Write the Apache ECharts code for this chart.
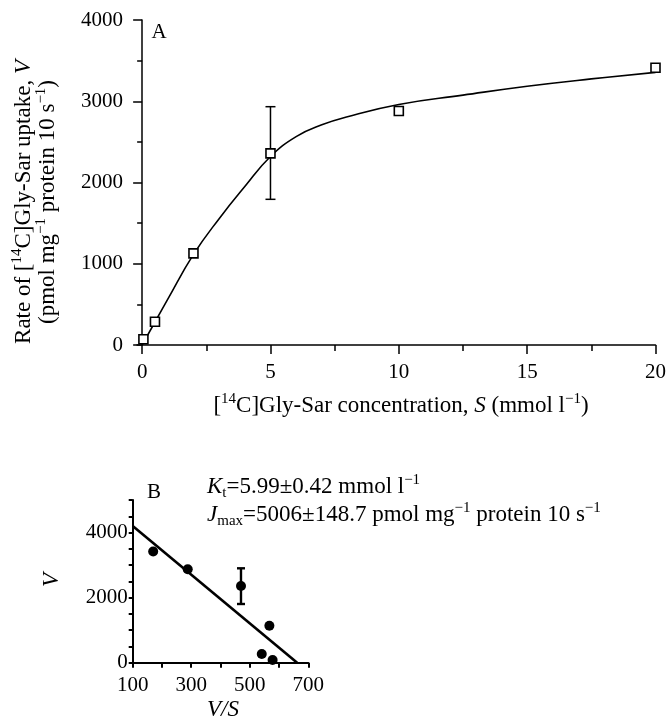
<!DOCTYPE html>
<html><head><meta charset="utf-8">
<script src="https://cdn.jsdelivr.net/npm/echarts@6/dist/echarts.min.js"></script>
<style>html,body{margin:0;padding:0;background:#fff}#c{width:669px;height:725px}</style>
</head><body><div id="c"></div>
<script>
// Panel A: uptake rate vs concentration
const concS = [0.05, 0.5, 2, 5, 10, 20];
const rateV = [70, 287, 1128, 2359, 2880, 3413];
const errA = [[5, 1793, 2933]];
const fitS = [0, 1, 2, 3, 4, 5, 6, 7, 8, 10, 12.5, 15, 17.5, 20];
const fitV = [0, 565, 1115, 1555, 1950, 2320, 2565, 2710, 2810, 2960, 3075, 3185, 3275, 3355];
const topXTicks = [0, 5, 10, 15, 20];
const topXMinor = [2.5, 7.5, 12.5, 17.5];
// Panel B: Eadie-Hofstee plot
const vsX = [578, 541, 567, 470, 288, 170];
const vY = [83, 267, 1137, 2357, 2870, 3420];
const errB = [[470, 1804, 2901]];
const lineVS = [100, 662];
const lineV = [4200, 0];
const botXLabels = [100, 300, 500, 700];
const botYLabels = [0, 2000, 4000];

const FONT = 'Liberation Serif';
const chart = echarts.init(document.getElementById('c'), null, {renderer: 'canvas'});

function errRender(lw, hw) {
  return function (params, api) {
    const x = api.value(0), lo = api.value(1), hi = api.value(2);
    const a = api.coord([x, lo]), b = api.coord([x, hi]);
    const st = {stroke: '#000', lineWidth: lw};
    return {type: 'group', children: [
      {type: 'line', shape: {x1: a[0], y1: a[1], x2: b[0], y2: b[1]}, style: st},
      {type: 'line', shape: {x1: a[0] - hw, y1: a[1], x2: a[0] + hw, y2: a[1]}, style: st},
      {type: 'line', shape: {x1: b[0] - hw, y1: b[1], x2: b[0] + hw, y2: b[1]}, style: st}
    ]};
  };
}

const lblStyle = {fontFamily: FONT, fontSize: 21, color: '#000'};
const richBase = {
  sup: {fontFamily: FONT, fontSize: 15, lineHeight: 17, verticalAlign: 'top', fill: '#000'},
  sub: {fontFamily: FONT, fontSize: 15, lineHeight: 16, verticalAlign: 'bottom', fill: '#000'},
  i: {fontFamily: FONT, fontSize: 23, fontStyle: 'italic', lineHeight: 28, fill: '#000'}
};
function txt(x, y, text, opts) {
  opts = opts || {};
  return {
    type: 'text', x: x, y: y, rotation: opts.rot || 0, z: 100,
    style: {
      text: text, fontFamily: FONT, fontSize: opts.size || 23, lineHeight: 28, fill: '#000',
      fontStyle: opts.italic ? 'italic' : 'normal',
      align: opts.align || 'center', verticalAlign: 'middle', rich: richBase
    }
  };
}

const option = {
  animation: false,
  backgroundColor: '#fff',
  grid: [
    {left: 137, top: 20, right: 13, height: 325},
    {left: 132.7, top: 500, width: 175.6, height: 162.7}
  ],
  xAxis: [
    {gridIndex: 0, type: 'value', min: -0.2, max: 20, position: 'bottom',
     axisLine: {lineStyle: {color: '#000', width: 1.5}},
     axisTick: {customValues: topXTicks, length: 9, lineStyle: {color: '#000', width: 1.5}},
     axisLabel: Object.assign({customValues: topXTicks, margin: 17, formatter: v => String(v)}, lblStyle),
     splitLine: {show: false}},
    {gridIndex: 0, type: 'value', min: -0.2, max: 20, position: 'bottom',
     axisLine: {show: false},
     axisTick: {customValues: topXMinor, length: 6, lineStyle: {color: '#000', width: 1.5}},
     axisLabel: {show: false}, splitLine: {show: false}},
    {gridIndex: 1, type: 'value', min: 100, max: 700, interval: 100,
     axisLine: {lineStyle: {color: '#000', width: 2}},
     axisTick: {length: 5, lineStyle: {color: '#000', width: 2}},
     axisLabel: Object.assign({margin: 12, formatter: v => botXLabels.indexOf(v) >= 0 ? String(v) : ''}, lblStyle),
     splitLine: {show: false}}
  ],
  yAxis: [
    {gridIndex: 0, type: 'value', min: 0, max: 4000, interval: 1000,
     axisLine: {show: true, lineStyle: {color: '#000', width: 1.5}},
     axisTick: {show: true, length: 9, lineStyle: {color: '#000', width: 1.5}},
     minorTick: {show: true, splitNumber: 2, length: 5, lineStyle: {color: '#000', width: 1.5}},
     axisLabel: Object.assign({margin: 14, formatter: v => String(v)}, lblStyle),
     splitLine: {show: false}, minorSplitLine: {show: false}},
    {gridIndex: 1, type: 'value', min: 0, max: 5000, interval: 500,
     axisLine: {show: true, lineStyle: {color: '#000', width: 2}},
     axisTick: {show: true, length: 4, lineStyle: {color: '#000', width: 2}},
     axisLabel: Object.assign({margin: 5, formatter: v => botYLabels.indexOf(v) >= 0 ? String(v) : ''}, lblStyle),
     splitLine: {show: false}}
  ],
  series: [
    {type: 'line', xAxisIndex: 0, yAxisIndex: 0, data: fitS.map((s, i) => [s, fitV[i]]),
     smooth: 0.45, showSymbol: false, symbol: 'none',
     lineStyle: {color: '#000', width: 1.6}, z: 2},
    {type: 'custom', xAxisIndex: 0, yAxisIndex: 0, data: errA, encode: {x: 0, y: [1, 2]},
     renderItem: errRender(1.5, 5), z: 3},
    {type: 'scatter', xAxisIndex: 0, yAxisIndex: 0, data: concS.map((s, i) => [s, rateV[i]]),
     symbol: 'rect', symbolSize: 9,
     itemStyle: {color: '#fff', borderColor: '#000', borderWidth: 1.6, opacity: 1}, z: 5},
    {type: 'line', xAxisIndex: 2, yAxisIndex: 1, data: lineVS.map((s, i) => [s, lineV[i]]),
     showSymbol: false, symbol: 'none', lineStyle: {color: '#000', width: 2.6}, z: 2},
    {type: 'custom', xAxisIndex: 2, yAxisIndex: 1, data: errB, encode: {x: 0, y: [1, 2]},
     renderItem: errRender(2.4, 4), z: 3},
    {type: 'scatter', xAxisIndex: 2, yAxisIndex: 1, data: vsX.map((s, i) => [s, vY[i]]),
     symbol: 'circle', symbolSize: 10, itemStyle: {color: '#000', opacity: 1}, z: 5}
  ],
  graphic: [
    txt(159, 32, 'A', {size: 21}),
    txt(24, 202, 'Rate of [{sup|14}C]Gly-Sar uptake, {i|V}', {rot: Math.PI / 2}),
    txt(48, 202, '(pmol mg{sup|−1} protein 10 s{sup|−1})', {rot: Math.PI / 2}),
    txt(401, 406, '[{sup|14}C]Gly-Sar concentration, {i|S} (mmol l{sup|−1})'),
    txt(154, 492, 'B', {size: 21}),
    txt(207, 487, '{i|K}{sub|t}=5.99±0.42 mmol l{sup|−1}', {align: 'left'}),
    txt(207, 515, '{i|J}{sub|max}=5006±148.7 pmol mg{sup|−1} protein 10 s{sup|−1}', {align: 'left'}),
    txt(52, 580, '{i|V}', {rot: Math.PI / 2}),
    txt(223, 710, '{i|V/S}')
  ]
};
chart.setOption(option);
</script>
</body></html>
